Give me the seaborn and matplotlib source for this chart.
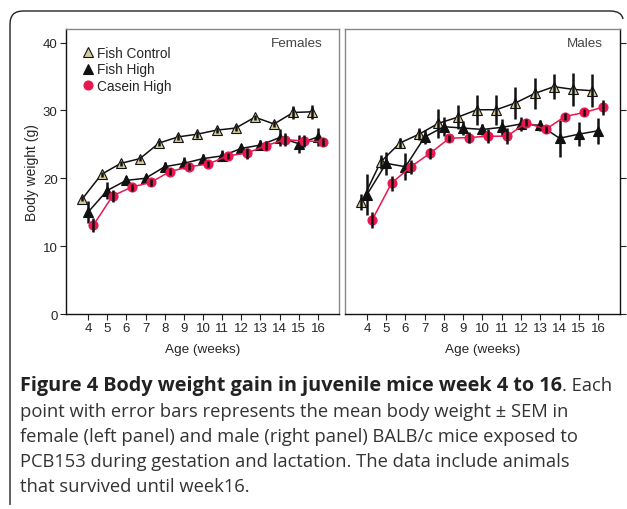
import numpy as np
import pandas as pd
import seaborn as sns
import matplotlib.pyplot as plt
from matplotlib.path import Path
from matplotlib.patches import PathPatch
from matplotlib.transforms import IdentityTransform

# Data (mean body weight, g, and SEM)
weeks = [4, 5, 6, 7, 8, 9, 10, 11, 12, 13, 14, 15, 16]
groups = ["Fish Control", "Fish High", "Casein High"]

fem_control = [17.0, 20.6, 22.2, 22.9, 25.2, 26.1, 26.5, 27.1, 27.4, 29.0, 28.0, 29.7, 29.8]
fem_control_sem = [0.4, 0.4, 0.4, 0.4, 0.4, 0.4, 0.5, 0.4, 0.4, 0.4, 0.4, 0.9, 1.0]
fem_high = [15.0, 18.2, 19.7, 20.0, 21.7, 22.2, 22.9, 23.3, 24.4, 24.9, 26.0, 25.1, 26.1]
fem_high_sem = [1.6, 1.2, 0.7, 0.6, 0.7, 0.9, 0.7, 0.8, 0.7, 0.7, 1.2, 1.3, 1.3]
fem_casein = [13.1, 17.4, 18.7, 19.4, 21.0, 21.7, 22.1, 23.3, 23.7, 24.8, 25.7, 25.5, 25.4]
fem_casein_sem = [1.0, 0.9, 0.5, 0.5, 0.5, 0.5, 0.5, 0.5, 0.8, 0.7, 1.0, 0.9, 0.6]

male_control = [16.5, 22.4, 25.2, 26.5, 28.1, 29.0, 30.1, 30.1, 31.1, 32.5, 33.5, 33.1, 32.9]
male_control_sem = [1.2, 1.0, 0.7, 0.9, 2.1, 1.8, 2.2, 2.2, 2.3, 2.3, 1.8, 2.4, 2.4]
male_high = [17.6, 22.2, 21.7, 26.1, 27.6, 27.4, 27.2, 27.5, 28.0, 27.8, 25.9, 26.5, 27.0]
male_high_sem = [3.0, 1.7, 2.0, 1.0, 1.4, 1.0, 0.8, 1.2, 1.0, 0.8, 2.7, 1.8, 1.9]
male_casein = [13.9, 19.3, 21.7, 23.7, 25.9, 26.0, 26.2, 26.2, 28.2, 27.2, 29.1, 29.7, 30.5]
male_casein_sem = [1.2, 1.1, 1.0, 0.8, 0.5, 0.8, 1.0, 1.2, 0.5, 0.5, 0.5, 0.5, 1.1]

panels = {
    "Females": [(fem_control, fem_control_sem), (fem_high, fem_high_sem), (fem_casein, fem_casein_sem)],
    "Males": [(male_control, male_control_sem), (male_high, male_high_sem), (male_casein, male_casein_sem)],
}

offsets = [-0.29, 0.0, 0.28]
markers = ["^", "^", "o"]
face = ["#d8cb9b", "#111111", "#e8184f"]
line_col = ["#111111", "#111111", "#e8184f"]

sns.set_style("ticks")
plt.rcParams["font.family"] = ["Liberation Sans", "DejaVu Sans"]

W, H = 627, 510
fig = plt.figure(figsize=(W / 100, H / 100), dpi=100)

# open rounded frame: left side, top, and the start of the right corner
def px(x, y):
    return (x, H - y)

verts = [px(10, 506), px(10, 26), px(10, 16), px(14, 12), px(24, 12),
         px(610, 12), px(618, 12), px(622, 15), px(623, 20)]
codes = [Path.MOVETO, Path.LINETO, Path.CURVE4, Path.CURVE4, Path.CURVE4,
         Path.LINETO, Path.CURVE4, Path.CURVE4, Path.CURVE4]
fig.patches.append(PathPatch(Path(verts, codes), transform=IdentityTransform(),
                             fill=False, edgecolor="#222222", linewidth=1.0))

ax1 = fig.add_axes([66 / W, 1 - 315 / H, 273 / W, 285 / H])
ax2 = fig.add_axes([345 / W, 1 - 315 / H, 275 / W, 285 / H])

title_x = {"Females": 0.941, "Males": 0.938}

for ax, (title, series) in zip([ax1, ax2], panels.items()):
    for i, (vals, sem) in enumerate(series):
        df = pd.DataFrame({"week": np.array(weeks) + offsets[i], "weight": vals, "sem": sem})
        ax.errorbar(df["week"], df["weight"], yerr=df["sem"], fmt="none",
                    ecolor="#111111", elinewidth=1.8, capsize=0, zorder=4 + i)
        sns.lineplot(data=df, x="week", y="weight", ax=ax, color=line_col[i],
                     linewidth=1.1, marker=markers[i], markersize=7 if i < 2 else 6.5,
                     markerfacecolor=face[i], markeredgecolor="#111111" if i < 2 else face[i],
                     markeredgewidth=0.8, label=groups[i], zorder=3 + i)
    ax.set_ylim(0, 42)
    ax.set_yticks([0, 10, 20, 30, 40])
    ax.set_xticks(weeks)
    ax.set_xticklabels([str(w) for w in weeks], fontsize=9.5)
    ax.set_xlabel("Age (weeks)", fontsize=9.7, labelpad=6)
    ax.tick_params(length=4, width=0.8, color="#222222", pad=2)
    ax.text(title_x[title], 0.951, title, transform=ax.transAxes, ha="right", va="center",
            fontsize=9.7, color="#444444")
    for sp in ax.spines.values():
        sp.set_visible(True)
        sp.set_color("#888888")
        sp.set_linewidth(1.0)

ax1.set_xlim(2.85, 17.1)
ax2.set_xlim(2.86, 17.14)

ax1.set_ylabel("Body weight (g)", fontsize=10, labelpad=3)
ax1.set_yticklabels(["0", "10", "20", "30", "40"], fontsize=9.5)
ax1.spines["left"].set_color("#111111")
ax1.spines["bottom"].set_color("#111111")

ax2.set_ylabel("")
ax2.yaxis.tick_right()
ax2.set_yticklabels([])
ax2.spines["right"].set_color("#111111")
ax2.spines["bottom"].set_color("#111111")

ax1.legend(loc="upper left", bbox_to_anchor=(0.025, 0.97), frameon=False, fontsize=9.8,
           handlelength=1.0, handletextpad=0.2, labelspacing=0.2, borderaxespad=0.2)
for ln in ax1.get_legend().get_lines():
    ln.set_linestyle("none")
if ax2.get_legend():
    ax2.get_legend().remove()

# caption
cap_font = ["Open Sans", "DejaVu Sans"]
renderer = fig.canvas.get_renderer()
bold = fig.text(20 / W, 1 - 386 / H, "Figure 4 Body weight gain in juvenile mice week 4 to 16",
                fontsize=14.3, fontweight="bold", family=cap_font, color="#222222", va="center")
bb = bold.get_window_extent(renderer=renderer)
fig.text(bb.x1 / fig.bbox.width, 1 - 386 / H, ". Each", fontsize=13.2,
         family=cap_font, color="#333333", va="center")
caption_lines = [
    "point with error bars represents the mean body weight \u00b1 SEM in",
    "female (left panel) and male (right panel) BALB/c mice exposed to",
    "PCB153 during gestation and lactation. The data include animals",
    "that survived until week16.",
]
for k, line in enumerate(caption_lines):
    fig.text(20 / W, 1 - (412 + 25 * k) / H, line, fontsize=13.2,
             family=cap_font, color="#333333", va="center")

fig.savefig("out.png", dpi=100)
